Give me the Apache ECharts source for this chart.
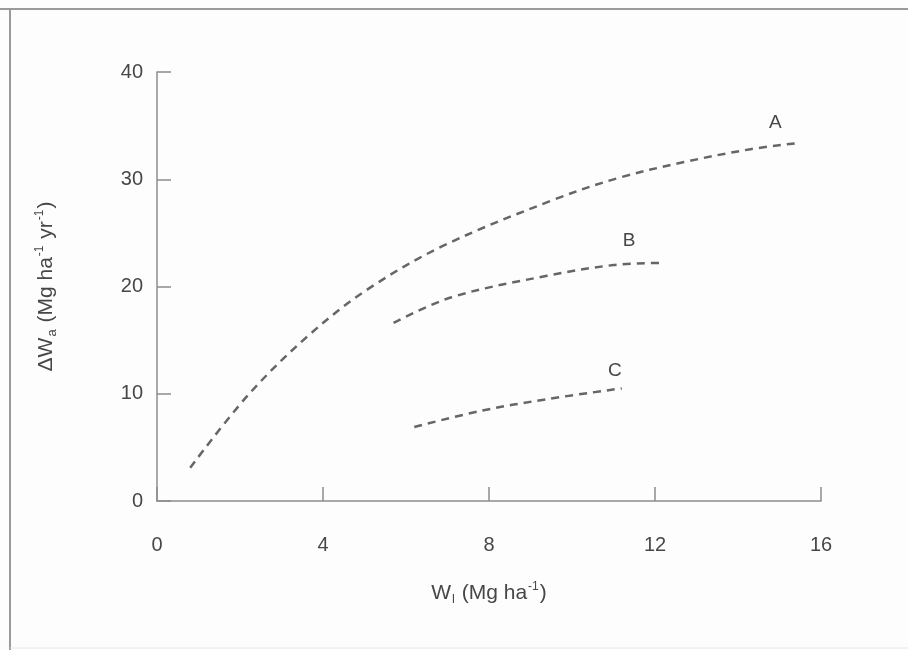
<!DOCTYPE html>
<html>
<head>
<meta charset="utf-8">
<title>ΔWa vs Wl</title>
<script src="https://cdn.jsdelivr.net/npm/echarts@6/dist/echarts.min.js"></script>
<style>
  html, body { margin: 0; padding: 0; background: #fdfdfd; }
  #chart { width: 908px; height: 650px; }
</style>
</head>
<body>
<div id="chart"></div>
<script>
// Curve data: [Wl (Mg ha-1), ΔWa (Mg ha-1 yr-1)]
const curveA = [[0.8, 3.1], [2.2, 9.9], [3.7, 15.6], [5.1, 19.8], [6.9, 23.8],
                [9.5, 28.0], [11.1, 30.1], [12.7, 31.6], [14.3, 32.8], [15.5, 33.4]];
const curveB = [[5.7, 16.6], [7.1, 19.0], [9.4, 21.0], [11.0, 22.0], [12.1, 22.2]];
const curveC = [[6.2, 6.9], [7.8, 8.4], [9.4, 9.5], [11.2, 10.5]];
const curveNames = ['A', 'B', 'C'];

const xTicks = [0, 4, 8, 12, 16];
const yTicks = [0, 10, 20, 30, 40];

// curve-name label offsets relative to the end point of each curve
const labelOffsets = { A: [-25, -20], B: [-30, -22], C: [-7, -18] };

const font = 'Liberation Sans, Arial, Helvetica, sans-serif';
const axisGray = '#8c8c8c';
const textGray = '#474747';

function makeSeries(name, data) {
  const last = data[data.length - 1];
  return {
    name: name,
    type: 'line',
    data: data,
    smooth: 0.35,
    showSymbol: false,
    symbol: 'none',
    silent: true,
    lineStyle: { color: '#666666', width: 2.5, type: [8, 6] },
    // curve name placed next to the end of the curve
    markPoint: {
      silent: true,
      symbol: 'circle',
      symbolSize: 0,
      data: [{ coord: last, name: name }],
      label: {
        show: true,
        formatter: name,
        position: 'inside',
        offset: labelOffsets[name],
        fontSize: 19,
        color: textGray,
        fontFamily: font
      }
    }
  };
}

const titleRich = {
  n: { fontSize: 21, color: textGray, fontFamily: font },
  s: { fontSize: 13, color: textGray, fontFamily: font, verticalAlign: 'bottom', padding: [12, 1, 0, 1] },
  p: { fontSize: 12, color: textGray, fontFamily: font, verticalAlign: 'top', padding: [0, 1, 10, 1] }
};

const chart = echarts.init(document.getElementById('chart'), null, { renderer: 'canvas' });
chart.setOption({
  backgroundColor: '#fdfdfd',
  animation: false,
  grid: { left: 157, right: 87, top: 72, bottom: 149 },
  xAxis: {
    type: 'value',
    min: xTicks[0], max: xTicks[xTicks.length - 1], interval: 4,
    name: '{n|W}{s|l}{n| (Mg ha}{p|-1}{n|)}',
    nameLocation: 'middle', nameGap: 80,
    nameTextStyle: { rich: titleRich },
    axisLine: { show: true, lineStyle: { color: axisGray, width: 1.5 } },
    axisTick: { show: true, inside: true, length: 14, lineStyle: { color: axisGray, width: 1.5 } },
    axisLabel: { margin: 34, fontSize: 20, color: textGray, fontFamily: font },
    splitLine: { show: false }
  },
  yAxis: {
    type: 'value',
    min: yTicks[0], max: yTicks[yTicks.length - 1], interval: 10,
    name: '{n|ΔW}{s|a}{n| (Mg ha}{p|-1}{n| yr}{p|-1}{n|)}',
    nameLocation: 'middle', nameGap: 98, nameRotate: 90,
    nameTextStyle: { rich: titleRich },
    axisLine: { show: true, lineStyle: { color: axisGray, width: 1.5 } },
    axisTick: { show: true, inside: true, length: 14, lineStyle: { color: axisGray, width: 1.5 } },
    axisLabel: { margin: 14, fontSize: 20, color: textGray, fontFamily: font },
    splitLine: { show: false }
  },
  series: [
    makeSeries(curveNames[0], curveA),
    makeSeries(curveNames[1], curveB),
    makeSeries(curveNames[2], curveC)
  ],
  graphic: [
    // outer frame of the figure panel
    { type: 'line', shape: { x1: 0, y1: 9, x2: 908, y2: 9 }, style: { stroke: '#9a9a9a', lineWidth: 2 }, silent: true },
    { type: 'line', shape: { x1: 10, y1: 9, x2: 10, y2: 650 }, style: { stroke: '#9a9a9a', lineWidth: 2 }, silent: true },
    { type: 'line', shape: { x1: 10, y1: 648, x2: 908, y2: 648 }, style: { stroke: '#e6e6e6', lineWidth: 1 }, silent: true }
  ]
});
</script>
</body>
</html>
